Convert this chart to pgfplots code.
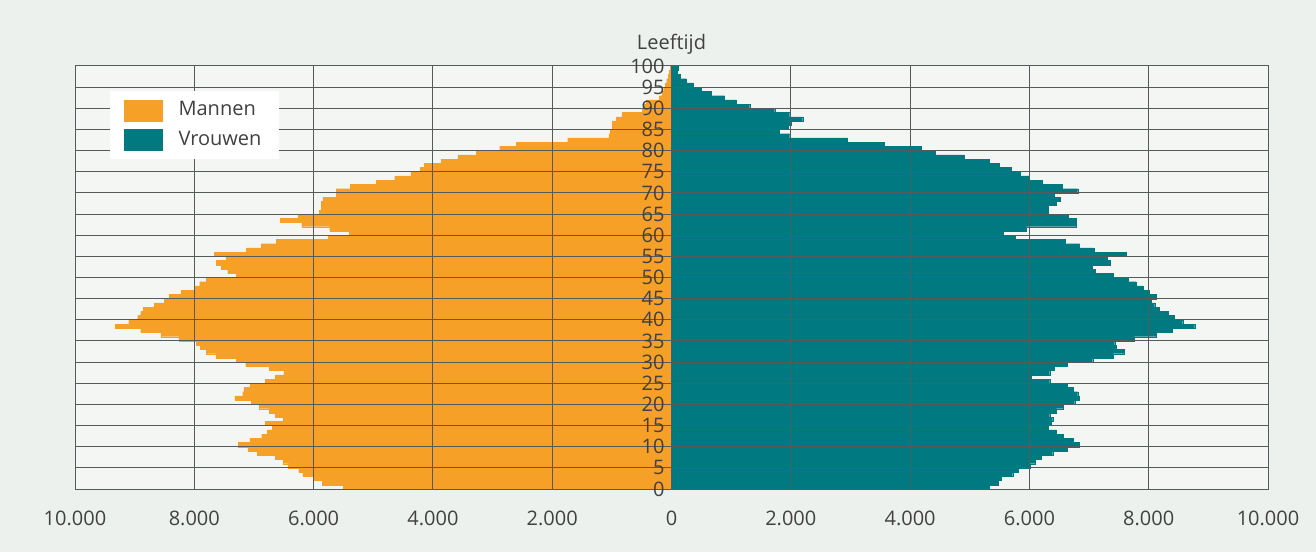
\documentclass[border=0pt]{standalone}
\usepackage{pgfplots}
\usepackage{pgfplotstable}
\pgfplotsset{compat=1.18}
\usetikzlibrary{calc}
\usepackage{fontspec}
\setmainfont{Open Sans}
\definecolor{bg}{RGB}{237,241,238}
\definecolor{plotbg}{RGB}{244,246,244}
\definecolor{gridc}{RGB}{85,90,90}
\definecolor{orng}{RGB}{247,160,40}
\definecolor{tealc}{RGB}{0,122,128}
\definecolor{txt}{RGB}{65,65,65}
\pgfdeclarelayer{bglayer}
\pgfsetlayers{bglayer,main}

\pgfplotstableread{
age m
0 -5500
1 -5850
2 -6010
3 -6180
4 -6250
5 -6420
6 -6510
7 -6640
8 -6940
9 -7100
10 -7260
11 -7070
12 -6870
13 -6780
14 -6690
15 -6810
16 -6510
17 -6640
18 -6740
19 -6910
20 -7040
21 -7320
22 -7190
23 -7170
24 -7070
25 -6810
26 -6640
27 -6500
28 -6740
29 -7140
30 -7300
31 -7640
32 -7800
33 -7900
34 -7970
35 -8260
36 -8560
37 -8900
38 -9320
39 -9100
40 -8950
41 -8900
42 -8860
43 -8670
44 -8500
45 -8420
46 -8220
47 -8000
48 -7910
49 -7800
50 -7300
51 -7440
52 -7550
53 -7630
54 -7470
55 -7660
56 -7130
57 -6880
58 -6630
59 -5760
60 -5400
61 -5730
62 -6200
63 -6560
64 -6265
65 -5900
66 -5870
67 -5870
68 -5845
69 -5620
70 -5620
71 -5380
72 -4950
73 -4640
74 -4360
75 -4220
76 -4140
77 -3860
78 -3580
79 -3270
80 -2880
81 -2600
82 -1740
83 -1050
84 -1030
85 -1000
86 -990
87 -930
88 -830
89 -490
90 -470
91 -420
92 -200
93 -160
94 -130
95 -100
96 -80
97 -50
98 -35
99 -20
}\men

\pgfplotstableread{
age v
0 5330
1 5470
2 5530
3 5720
4 5810
5 6010
6 6090
7 6200
8 6390
9 6640
10 6830
11 6730
12 6560
13 6450
14 6310
15 6370
16 6390
17 6340
18 6450
19 6560
20 6760
21 6840
22 6810
23 6730
24 6640
25 6340
26 6030
27 6340
28 6420
29 6640
30 7060
31 7400
32 7590
33 7450
34 7430
35 7760
36 8120
37 8400
38 8770
39 8570
40 8430
41 8320
42 8180
43 8100
44 8040
45 8120
46 8010
47 7900
48 7790
49 7650
50 7400
51 7100
52 7050
53 7350
54 7300
55 7620
56 7080
57 6840
58 6600
59 5760
60 5560
61 5950
62 6780
63 6780
64 6650
65 6320
66 6320
67 6450
68 6520
69 6420
70 6810
71 6550
72 6220
73 6000
74 5850
75 5700
76 5500
77 5330
78 4910
79 4420
80 4190
81 3570
82 2950
83 1980
84 1810
85 1950
86 2000
87 2200
88 1980
89 1730
90 1310
91 1080
92 890
93 670
94 500
95 360
96 250
97 150
98 100
99 110
}\women

\begin{document}
\begin{tikzpicture}
\begin{axis}[
  scale only axis, width=596.5pt, height=211.5pt,
  clip=false,
  xmin=-10000, xmax=10000, ymin=0, ymax=100,
  axis background/.style={fill=plotbg},
  scaled x ticks=false,
  xtick={-10000,-8000,...,10000},
  xticklabels={10.000,8.000,6.000,4.000,2.000,0,2.000,4.000,6.000,8.000,10.000},
  ytick={0,5,...,100},
  grid=major,
  major grid style={draw=gridc, line width=0.5pt},
  axis line style={draw=gridc, line width=0.5pt},
  major tick length=0pt,
  axis on top,
  /pgf/number format/assume math mode=true,
  tick label style={font=\fontsize{10}{12}\selectfont, text=txt},
  xticklabel style={yshift=-7.6pt},
  yticklabel style={anchor=east, inner sep=0pt, xshift=295pt},
  legend style={at={(0.0293,0.943)}, anchor=north west, draw=none, fill=white,
    inner xsep=7pt, inner ysep=3.5pt, font=\fontsize{10}{12}\selectfont, text=txt,
    row sep=2pt, /tikz/every odd column/.append style={column sep=6pt}},
  legend cell align=left,
]
\addplot[xbar, bar width=1, bar shift=0pt, fill=orng, draw=orng, line width=0.1pt,
  legend image code/.code={\fill[orng] (0pt,-5.25pt) rectangle (19pt,5.25pt);}]
  table[x=m, y expr=\thisrow{age}+0.5] {\men};
\addlegendentry{Mannen}
\addplot[xbar, bar width=1, bar shift=0pt, fill=tealc, draw=tealc, line width=0.1pt,
  legend image code/.code={\fill[tealc] (0pt,-5.25pt) rectangle (19pt,5.25pt);}]
  table[x=v, y expr=\thisrow{age}+0.5] {\women};
\addlegendentry{Vrouwen}
\node[font=\fontsize{10}{12}\selectfont, text=txt, anchor=base, yshift=8pt] at (rel axis cs:0.5,1) {Leeftijd};
\coordinate (SW) at (rel axis cs:0,0);
\coordinate (NE) at (rel axis cs:1,1);
\end{axis}
\begin{pgfonlayer}{bglayer}
\fill[bg] ($(SW)+(-37.5pt,-31.5pt)$) rectangle ($(NE)+(24pt,33pt)$);
\end{pgfonlayer}
\end{tikzpicture}
\end{document}
